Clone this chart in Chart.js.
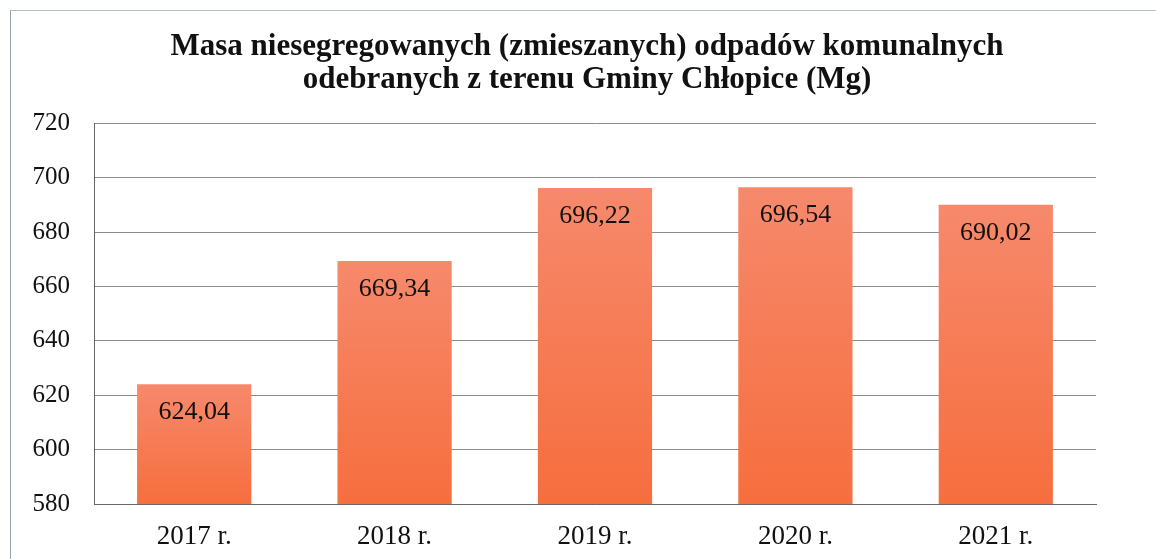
<!DOCTYPE html>
<html>
<head>
<meta charset="utf-8">
<script src="https://cdn.jsdelivr.net/npm/chart.js@4/dist/chart.umd.min.js"></script>
<style>
  body { margin: 0; background: #fff; }
  #wrap { position: relative; width: 1156px; height: 559px; }
  #frame {
    position: absolute; left: 10px; top: 10px; right: 0; bottom: 0;
    border-left: 1px solid #9aa4ae; border-top: 1px solid #b4bcc4;
  }
  canvas { position: absolute; left: 0; top: 0; }
</style>
</head>
<body>
<div id="wrap">
  <div id="frame"></div>
  <canvas id="wasteChart" width="1156" height="559"></canvas>
</div>
<script>
const years = ['2017 r.', '2018 r.', '2019 r.', '2020 r.', '2021 r.'];
const masses = [624.04, 669.34, 696.22, 696.54, 690.02];
const titleLines = [
  'Masa niesegregowanych (zmieszanych) odpadów komunalnych',
  'odebranych z terenu Gminy Chłopice (Mg)'
];
const yMin = 580;
const yMax = 720;
const yStep = 20;

const serif = '"Liberation Serif", "Times New Roman", serif';

// Each bar gets its own top-to-bottom gradient
function barGradient(context) {
  const chart = context.chart;
  const area = chart.chartArea;
  if (!area || context.parsed === undefined) return '#f57a50';
  const top = chart.scales.y.getPixelForValue(context.parsed.y);
  const g = chart.ctx.createLinearGradient(0, top, 0, area.bottom);
  g.addColorStop(0, '#f6896c');
  g.addColorStop(1, '#f66e3e');
  return g;
}

// Values written inside the bars, near their top
const valueLabels = {
  id: 'valueLabels',
  afterDatasetsDraw(chart) {
    const ctx = chart.ctx;
    const meta = chart.getDatasetMeta(0);
    ctx.save();
    ctx.font = '26px ' + serif;
    ctx.fillStyle = '#111';
    ctx.textAlign = 'center';
    ctx.textBaseline = 'middle';
    meta.data.forEach((bar, i) => {
      const txt = masses[i].toFixed(2).replace('.', ',');
      ctx.fillText(txt, bar.x, bar.y + 28);
    });
    ctx.restore();
  }
};

new Chart(document.getElementById('wasteChart'), {
  type: 'bar',
  data: {
    labels: years,
    datasets: [{
      data: masses,
      backgroundColor: barGradient,
      borderWidth: 0,
      barPercentage: 0.57,
      categoryPercentage: 1
    }]
  },
  options: {
    responsive: false,
    animation: false,
    layout: { padding: { left: 18, right: 0, top: 30, bottom: 0 } },
    plugins: {
      legend: { display: false },
      tooltip: { enabled: false },
      title: {
        display: true,
        text: titleLines,
        color: '#111',
        font: { family: serif, size: 31, weight: 'bold', lineHeight: 1.07 },
        padding: { top: 0, bottom: 27 }
      }
    },
    scales: {
      x: {
        afterFit(scale) { scale.height = 55; },
        grid: { display: false, drawTicks: false },
        border: { color: '#666', width: 1 },
        ticks: { color: '#111', font: { family: serif, size: 27 }, padding: 17 }
      },
      y: {
        min: yMin,
        max: yMax,
        afterFit(scale) { scale.width = 76; },
        grid: { color: '#8c8c8c', lineWidth: 1, drawTicks: false },
        border: { color: '#666', width: 1 },
        ticks: {
          stepSize: yStep,
          color: '#111',
          font: { family: serif, size: 25 },
          padding: 24
        }
      },
      // empty right-hand axis, only to keep the plot clear of the right edge
      yRight: {
        position: 'right',
        afterFit(scale) { scale.width = 60; },
        grid: { display: false, drawTicks: false },
        border: { display: false },
        ticks: { display: false }
      }
    }
  },
  plugins: [valueLabels]
});
</script>
</body>
</html>
